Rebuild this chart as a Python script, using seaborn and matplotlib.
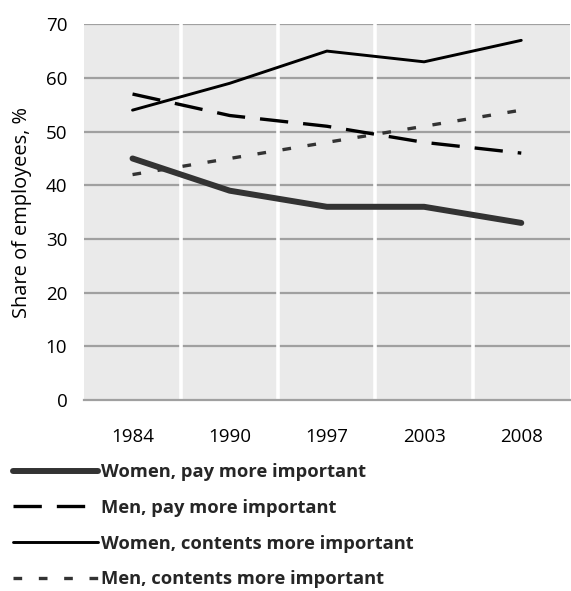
import matplotlib
matplotlib.use('Agg')
import matplotlib.pyplot as plt
import seaborn as sns
import pandas as pd

# data
years = ['1984', '1990', '1997', '2003', '2008']
women_pay = [45, 39, 36, 36, 33]
men_pay = [57, 53, 51, 48, 46]
women_contents = [54, 59, 65, 63, 67]
men_contents = [42, 45, 48, 51, 54]
series_names = ['Women, pay more important', 'Men, pay more important',
                'Women, contents more important', 'Men, contents more important']

sns.set_theme(style='white')
plt.rcParams['font.family'] = ['Open Sans', 'DejaVu Sans']

fig = plt.figure(figsize=(5.71, 5.91), dpi=100)
ax = fig.add_axes([0.147, 0.323, 0.851, 0.636])
ax.set_facecolor('#EAEAEA')

# horizontal grid (grey) under, vertical separators (white) over
for v in range(10, 71, 10):
    ax.axhline(v, color='#A0A0A0', lw=1.6, zorder=0)
for b in [0.5, 1.5, 2.5, 3.5]:
    ax.axvline(b, color='white', lw=2.6, zorder=1)

styles = [
    dict(color='#333333', linewidth=4.3, linestyle='-'),
    dict(color='black', linewidth=2.4, linestyle=(0, (8.5, 4.5))),
    dict(color='black', linewidth=2.1, linestyle='-'),
    dict(color='#333333', linewidth=2.4, linestyle=(0, (2.6, 5.0))),
]
values = [women_pay, men_pay, women_contents, men_contents]
for name, vals, st in zip(series_names, values, styles):
    df = pd.DataFrame({'year': years, 'share': vals})
    sns.lineplot(data=df, x='year', y='share', ax=ax, label=name,
                 solid_capstyle='round', dash_capstyle='butt', zorder=3, **st)

ax.set_xlim(-0.5, 4.5)
ax.set_ylim(0, 70)
ax.set_yticks(range(0, 71, 10))
ax.set_xlabel('')
ax.set_ylabel('Share of employees, %', fontsize=14.4, color='black', labelpad=10)
ax.tick_params(axis='y', length=0, labelsize=13.5, pad=12, colors='black')
ax.tick_params(axis='x', which='major', length=0, labelsize=13.5, pad=20, colors='black')
ax.set_xticks([-0.5, 0.5, 1.5, 2.5, 3.5, 4.5], minor=True)
ax.tick_params(axis='x', which='minor', length=6, width=1.4, color='#A0A0A0', direction='out')

for s in ['top', 'right', 'left']:
    ax.spines[s].set_visible(False)
ax.spines['bottom'].set_color('#A0A0A0')
ax.spines['bottom'].set_linewidth(1.6)

handles, labels = ax.get_legend_handles_labels()
ax.get_legend().remove()
fig.legend(handles, labels, loc='upper left', bbox_to_anchor=(0.013, 0.226),
           frameon=False, prop={'weight': 'bold', 'size': 13.2},
           handlelength=4.65, handletextpad=0.15, labelspacing=0.97,
           borderaxespad=0, borderpad=0.3)

fig.savefig('out.png', dpi=100)
